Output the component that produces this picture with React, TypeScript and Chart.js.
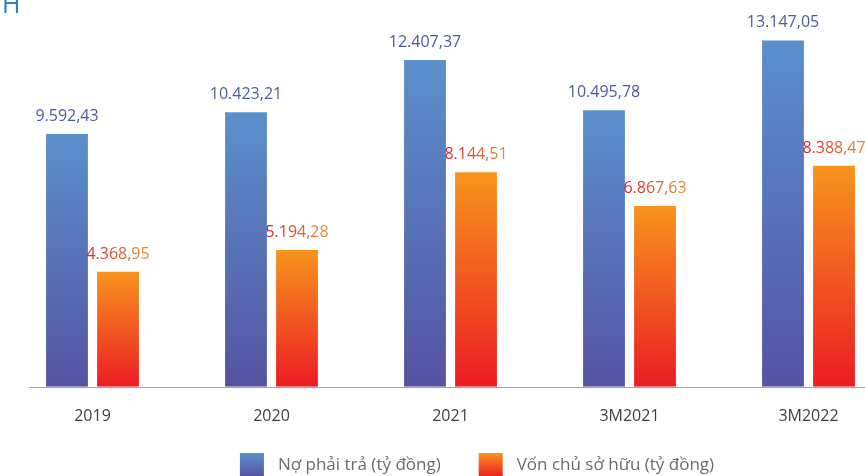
import React, { useEffect, useRef } from 'react';
import { Chart, registerables } from 'chart.js';

Chart.register(...registerables);

const categories = ['2019', '2020', '2021', '3M2021', '3M2022'];
const noPhaiTra = [9592.43, 10423.21, 12407.37, 10495.78, 13147.05];
const vonChuSoHuu = [4368.95, 5194.28, 8144.51, 6867.63, 8388.47];
const seriesNames = ['Nợ phải trả (tỷ đồng)', 'Vốn chủ sở hữu (tỷ đồng)'];
const headingText = 'H';
const yMax = 14000;

const FONT = "'Open Sans', 'Noto Sans', sans-serif";
const BLUE_TOP = '#5b90cc';
const BLUE_BOTTOM = '#5553a2';
const ORANGE_TOP = '#f7941d';
const ORANGE_BOTTOM = '#ec1c24';

function fmt(v: number): string {
  const [i, d] = v.toFixed(2).split('.');
  return i.replace(/\B(?=(\d{3})+(?!\d))/g, '.') + ',' + d;
}

function barGradient(top: string, bottom: string) {
  return (ctx: any) => {
    const chart = ctx.chart;
    const area = chart.chartArea;
    if (!area || ctx.type !== 'data') return top;
    const ys = chart.scales.y;
    const v = ctx.parsed ? ctx.parsed.y : ctx.raw;
    const y0 = ys.getPixelForValue(v);
    const y1 = ys.getPixelForValue(0);
    const g = chart.ctx.createLinearGradient(0, y0, 0, y1);
    g.addColorStop(0, top);
    g.addColorStop(1, bottom);
    return g;
  };
}

const valueLabels = {
  id: 'valueLabels',
  afterDatasetsDraw(chart: any) {
    const c = chart.ctx;
    chart.data.datasets.forEach((ds: any, di: number) => {
      const meta = chart.getDatasetMeta(di);
      meta.data.forEach((el: any, i: number) => {
        const text = fmt(ds.data[i]);
        c.save();
        c.font = `16px ${FONT}`;
        c.textAlign = 'center';
        c.textBaseline = 'alphabetic';
        const w = c.measureText(text).width;
        const x = el.x;
        const y = el.y - 13;
        if (di === 0) {
          c.fillStyle = '#4b5c9e';
        } else {
          const g = c.createLinearGradient(x - w / 2, 0, x + w / 2, 0);
          g.addColorStop(0, '#d6252b');
          g.addColorStop(1, '#e8902e');
          c.fillStyle = g;
        }
        c.fillText(text, x, y);
        c.restore();
      });
    });
  },
};

const baseline = {
  id: 'baseline',
  afterDatasetsDraw(chart: any) {
    const c = chart.ctx;
    const y = Math.round(chart.scales.y.getPixelForValue(0)) + 0.5;
    c.save();
    c.strokeStyle = '#a6a6a6';
    c.lineWidth = 1;
    c.beginPath();
    c.moveTo(29, y);
    c.lineTo(chart.chartArea.right + 10, y);
    c.stroke();
    c.restore();
  },
};

const customLegend = {
  id: 'customLegend',
  afterDraw(chart: any) {
    const c = chart.ctx;
    c.save();
    c.font = `17px ${FONT}`;
    const box = 24;
    const gapText = 14;
    const gapItem = 38;
    const widths = seriesNames.map((s) => c.measureText(s).width);
    const total = box * 2 + gapText * 2 + widths[0] + widths[1] + gapItem;
    let x = 477 - total / 2;
    const top = 453;
    const colors = [
      [BLUE_TOP, BLUE_BOTTOM],
      [ORANGE_TOP, ORANGE_BOTTOM],
    ];
    seriesNames.forEach((name, i) => {
      const g = c.createLinearGradient(0, top, 0, top + box);
      g.addColorStop(0, colors[i][0]);
      g.addColorStop(1, colors[i][1]);
      c.fillStyle = g;
      c.fillRect(x, top, box, box);
      x += box + gapText;
      c.fillStyle = '#6b6b6b';
      c.textAlign = 'left';
      c.textBaseline = 'middle';
      c.fillText(name, x, top + 12);
      x += widths[i] + gapItem;
    });
    // heading remnant
    c.font = `25px ${FONT}`;
    c.fillStyle = '#2b7fc2';
    c.textBaseline = 'alphabetic';
    c.fillText(headingText, 2, 13);
    c.restore();
  },
};

export default function App() {
  const ref = useRef<HTMLCanvasElement | null>(null);
  useEffect(() => {
    if (!ref.current) return;
    const chart = new Chart(ref.current, {
      type: 'bar',
      data: {
        labels: categories,
        datasets: [
          {
            label: seriesNames[0],
            data: noPhaiTra,
            backgroundColor: barGradient(BLUE_TOP, BLUE_BOTTOM),
            categoryPercentage: 0.57,
            barPercentage: 0.82,
          },
          {
            label: seriesNames[1],
            data: vonChuSoHuu,
            backgroundColor: barGradient(ORANGE_TOP, ORANGE_BOTTOM),
            categoryPercentage: 0.57,
            barPercentage: 0.82,
          },
        ],
      },
      options: {
        animation: false,
        responsive: true,
        maintainAspectRatio: false,
        layout: { padding: { left: 3, right: 52, top: 18, bottom: 30 } },
        plugins: {
          legend: { display: false },
          tooltip: { enabled: false },
          title: { display: false },
        },
        scales: {
          x: {
            grid: { display: false, drawTicks: false },
            border: { display: false },
            ticks: {
              color: '#3f3f3f',
              font: { family: FONT, size: 16 },
              padding: 20,
            },
          },
          y: {
            display: false,
            min: 0,
            max: yMax,
          },
        },
      },
      plugins: [valueLabels, baseline, customLegend],
    });
    return () => chart.destroy();
  }, []);
  return (
    <div style={{ position: 'absolute', left: 0, top: 0, width: 865, height: 476, overflow: 'hidden', background: '#fff' }}>
      <div style={{ position: 'relative', width: 950, height: 476 }}>
        <canvas ref={ref} />
      </div>
    </div>
  );
}
